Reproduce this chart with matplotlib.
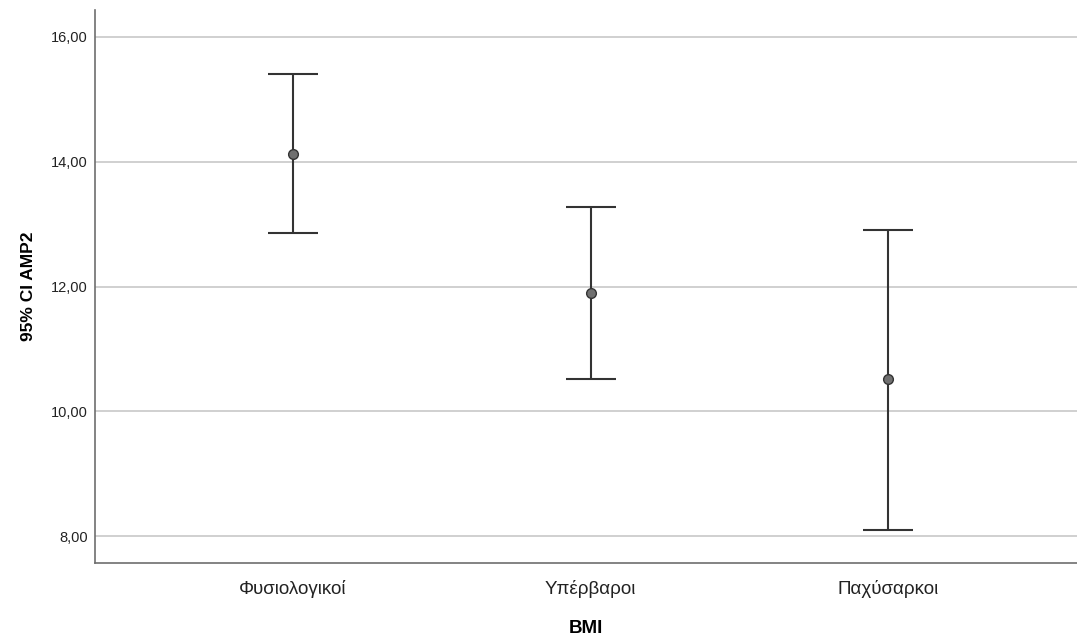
import numpy as np
import matplotlib.pyplot as plt

plt.rcParams['font.family'] = ['Liberation Sans', 'DejaVu Sans']

# data
groups = ["Φυσιολογικοί", "Υπέρβαροι", "Παχύσαρκοι"]
means = [14.13, 11.90, 10.52]
ci_low = [12.86, 10.52, 8.10]
ci_high = [15.40, 13.28, 12.91]
yticks = [8, 10, 12, 14, 16]

fig = plt.figure(figsize=(10.77, 6.37), dpi=100)
ax = fig.add_axes([95/1077, 74/637, 982/1077, 553/637])

x = np.arange(len(groups))
m = np.array(means)
yerr = [m - np.array(ci_low), np.array(ci_high) - m]

ax.errorbar(x, m, yerr=yerr, fmt='o', color='#333333', ecolor='#333333',
            elinewidth=1.5, capsize=18, capthick=1.5, markersize=7,
            markerfacecolor='#707070', markeredgecolor='#333333', zorder=3)

ax.set_ylim(7.57, 16.43)
ax.set_xlim(-0.666, 2.635)
ax.set_yticks(yticks)
ax.set_yticklabels([("%.2f" % v).replace('.', ',') for v in yticks], fontsize=10.5)
ax.set_xticks(x)
ax.set_xticklabels(groups, fontsize=13.5)
ax.tick_params(axis='both', length=0, pad=5, colors='#222222')
ax.tick_params(axis='x', pad=12)

ax.grid(axis='y', color='#c8c8c8', linewidth=1.2, zorder=0)
ax.set_axisbelow(True)
for s in ['top', 'right']:
    ax.spines[s].set_visible(False)
for s in ['left', 'bottom']:
    ax.spines[s].set_color('#6e6e6e')
    ax.spines[s].set_linewidth(1.2)

ax.set_xlabel("BMI", fontsize=13.5, fontweight='bold', labelpad=16)
ax.set_ylabel("95% CI AMP2", fontsize=12.5, fontweight='bold', labelpad=11)

fig.savefig('out.png', dpi=100)
